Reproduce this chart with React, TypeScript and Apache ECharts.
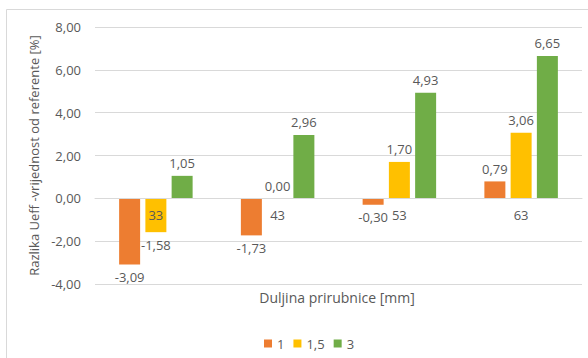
import React, { useEffect, useRef } from "react";
import * as echarts from "echarts";

const categories = ["33", "43", "53", "63"];
const seriesNames = ["1", "1,5", "3"];
const values1 = [-3.09, -1.73, -0.3, 0.79];
const values15 = [-1.58, 0.0, 1.7, 3.06];
const values3 = [1.05, 2.96, 4.93, 6.65];
const colors = ["#ED7D31", "#FFC000", "#70AD47"];
const yTicks = { min: -4, max: 8, interval: 2 };

const FONT = "Open Sans";
const TXT = "#595959";
const GRID = "#d9d9d9";

const fmt = (v: number) => v.toFixed(2).replace(".", ",");

export default function App() {
  const ref = useRef<HTMLDivElement>(null);
  useEffect(() => {
    if (!ref.current) return;
    const chart = echarts.init(ref.current, undefined, { renderer: "svg" });
    const all = [values1, values15, values3];
    const gridTop = 27;
    const gridBottom = 74;
    const gridH = 358 - gridTop - gridBottom;
    const zeroOffset = -gridH * (0 - yTicks.min) / (yTicks.max - yTicks.min);
    chart.setOption({
      animation: false,
      backgroundColor: "#fff",
      textStyle: { fontFamily: FONT },
      grid: { left: 95, right: 6, top: gridTop, bottom: gridBottom },
      legend: {
        left: 259,
        top: 332,
        itemWidth: 8,
        itemHeight: 8,
        itemGap: 9,
        icon: "rect",
        textStyle: { color: TXT, fontSize: 13, fontFamily: FONT },
        data: seriesNames,
      },
      xAxis: {
        type: "category",
        data: categories,
        offset: zeroOffset,
        axisLine: { onZero: false, lineStyle: { color: GRID, width: 1 } },
        axisTick: { show: false },
        axisLabel: { color: TXT, fontSize: 13, margin: 10, fontFamily: FONT },
        z: 5,
      },
      yAxis: {
        type: "value",
        min: yTicks.min,
        max: yTicks.max,
        interval: yTicks.interval,
        name: "Razlika Ueff -vrijednost od referente [%]",
        nameLocation: "middle",
        nameGap: 47,
        nameTextStyle: { color: TXT, fontSize: 13, fontFamily: FONT },
        axisLine: { show: false },
        axisTick: { show: false },
        axisLabel: { color: TXT, fontSize: 13, margin: 14, formatter: (v: number) => fmt(v), fontFamily: FONT },
        splitLine: { lineStyle: { color: GRID, width: 1 } },
        z: 0,
      },
      graphic: [
        {
          type: "rect",
          z: -10,
          silent: true,
          shape: { x: 6.5, y: 9.5, width: 700, height: 500 },
          style: { fill: "none", stroke: GRID, lineWidth: 1 },
        },
        {
          type: "text",
          x: 337,
          y: 297,
          style: {
            text: "Duljina prirubnice [mm]",
            fill: TXT,
            fontSize: 14,
            fontFamily: FONT,
            textAlign: "center",
            textVerticalAlign: "middle",
          },
        },
      ],
      series: seriesNames.map((name, i) => ({
        name,
        type: "bar",
        barWidth: 21,
        barGap: "25%",
        z: 2,
        itemStyle: { color: colors[i] },
        label: {
          show: true,
          color: TXT,
          fontSize: 13,
          fontFamily: FONT,
          distance: 6,
          formatter: (p: any) => fmt(p.value),
        },
        data: all[i].map((v) => ({
          value: v,
          label: { position: v < 0 ? "bottom" : "top" },
        })),
      })),
    });
    return () => chart.dispose();
  }, []);
  return (
    <div
      ref={ref}
      style={{ position: "fixed", left: 0, top: 0, width: 588, height: 358 }}
    />
  );
}
